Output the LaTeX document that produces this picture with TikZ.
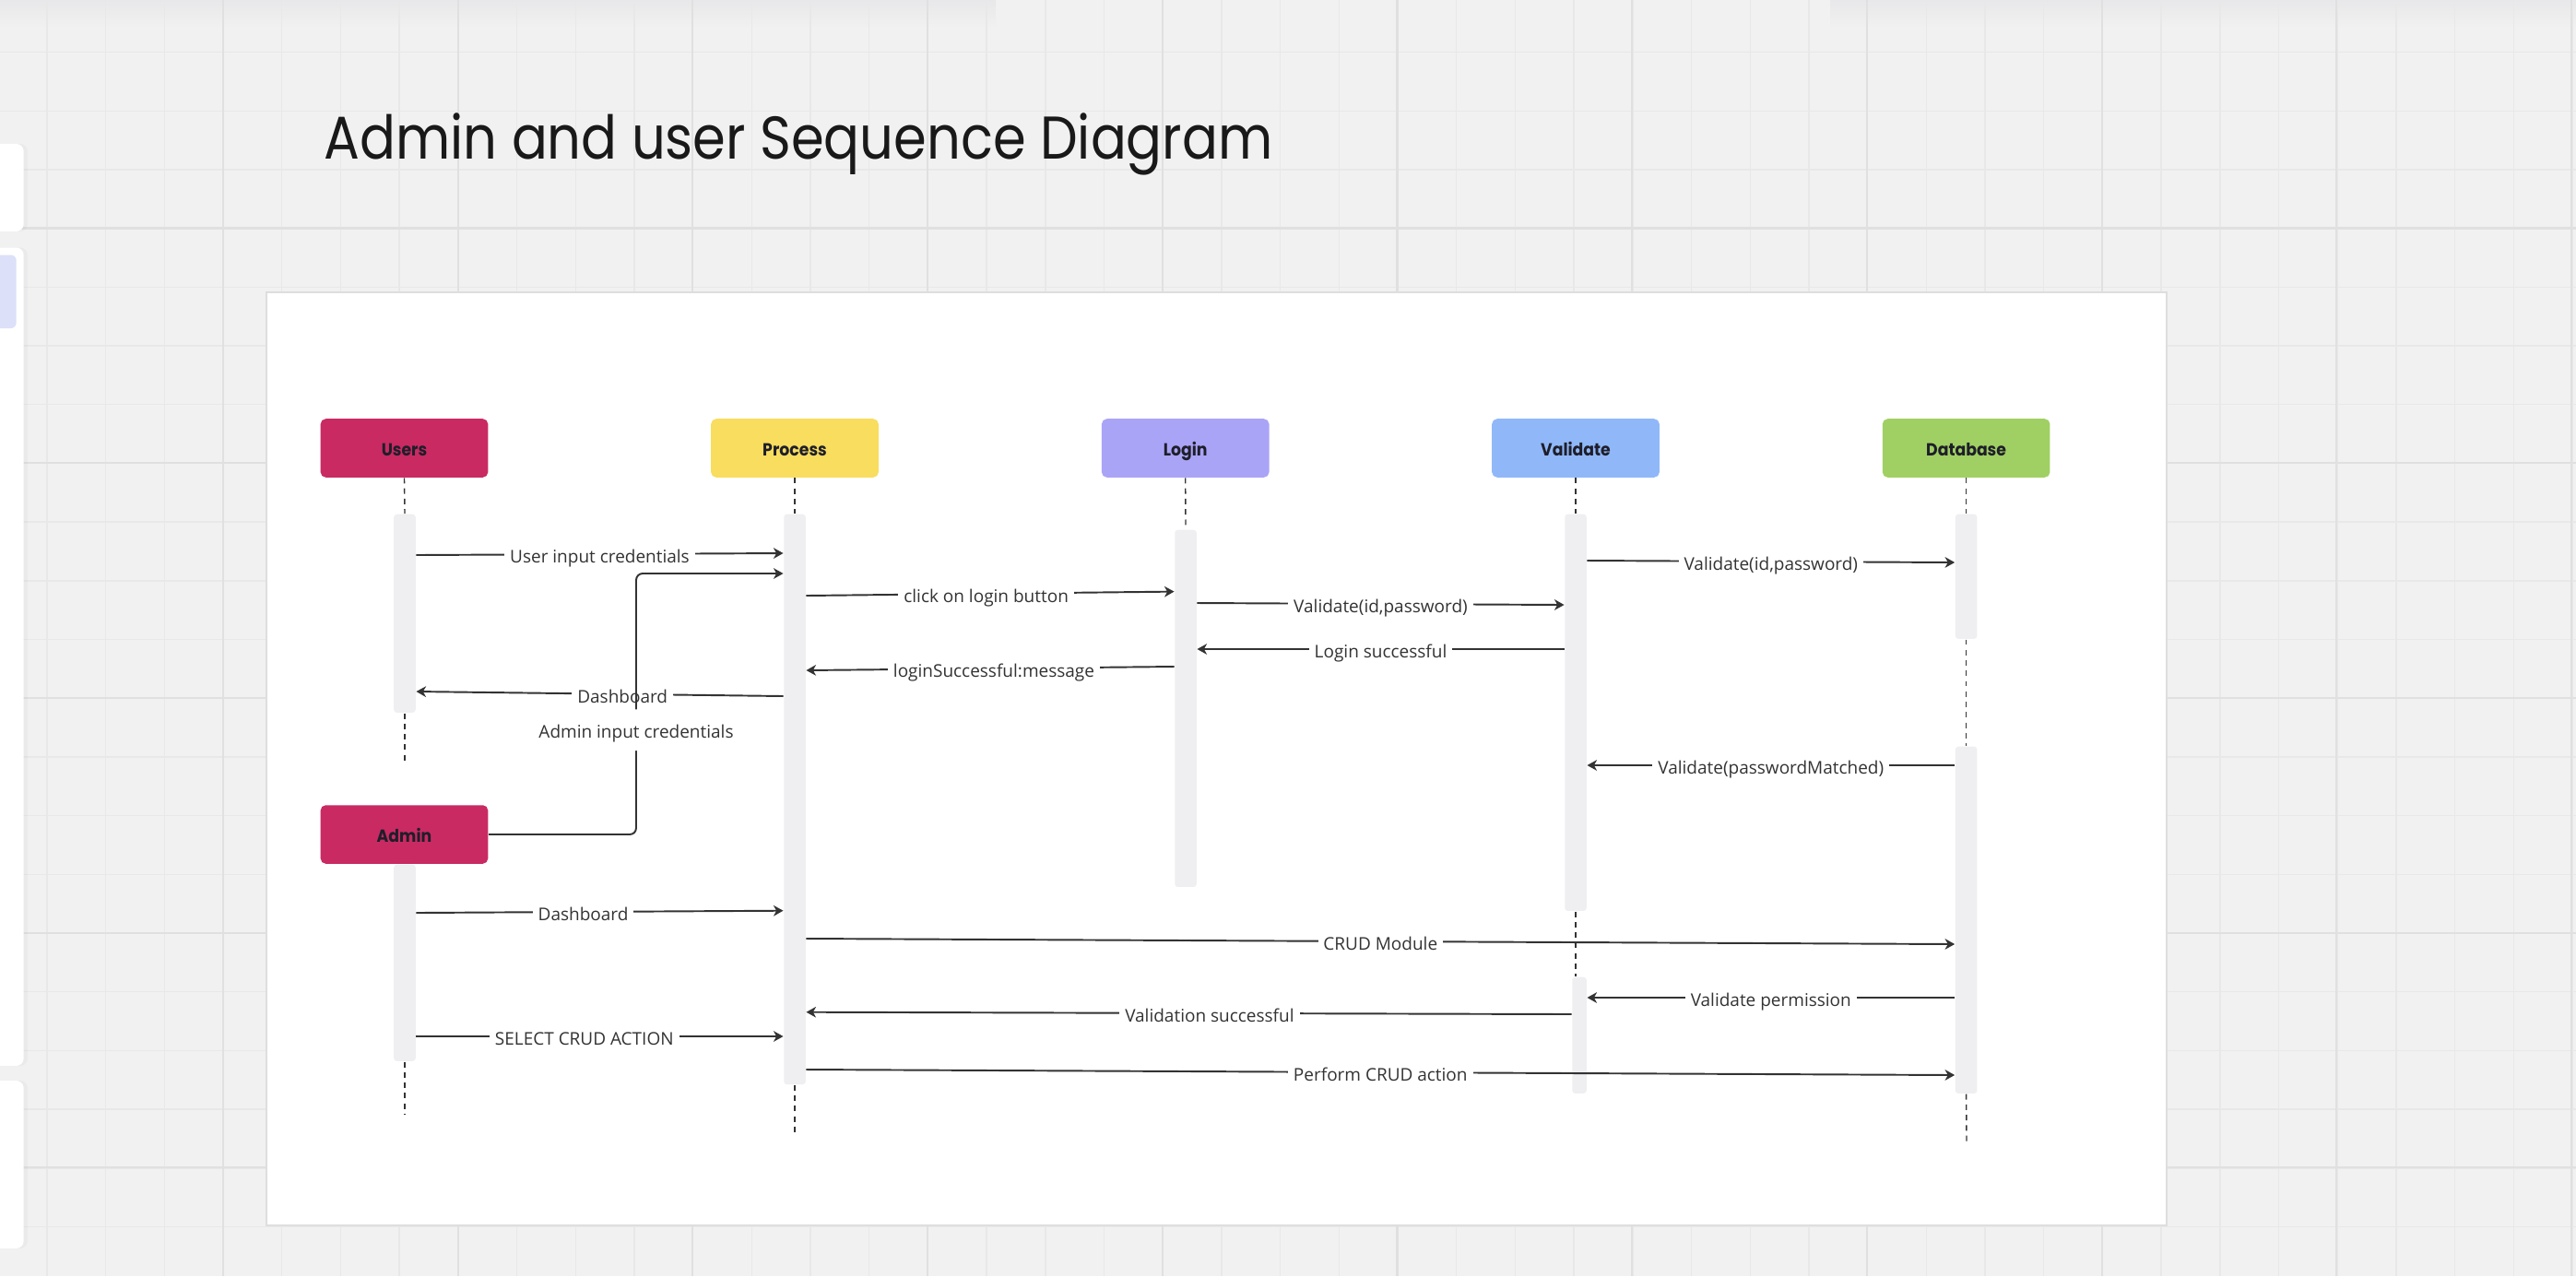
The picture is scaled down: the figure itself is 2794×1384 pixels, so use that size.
\documentclass[tikz,border=0pt]{standalone}
\usepackage{fontspec}
\setmainfont{Open Sans}
\newfontfamily\headfont{Poppins}[FakeStretch=0.91]
\newfontfamily\titlefont{Poppins}[FakeStretch=0.88]
\usetikzlibrary{arrows.meta,shadows}

\definecolor{canvas}{HTML}{F1F1F1}
\definecolor{gridminor}{HTML}{E8E8E8}
\definecolor{gridmajor}{HTML}{E0E0E0}
\definecolor{ink}{HTML}{333333}
\definecolor{barfill}{HTML}{EFEFF1}
\definecolor{usercol}{HTML}{C92A62}
\definecolor{proccol}{HTML}{F8DD5E}
\definecolor{logincol}{HTML}{AAA4F7}
\definecolor{validcol}{HTML}{90B8F9}
\definecolor{dbcol}{HTML}{A0D063}
\definecolor{headink}{HTML}{1E1E2A}
\definecolor{panelline}{HTML}{DEDEDE}
\definecolor{lavender}{HTML}{DCE0F9}
\definecolor{topshade}{HTML}{E8E8EA}

\begin{document}
\begin{tikzpicture}[x=0.01cm,y=-0.01cm,
  actor/.style={rounded corners=1.6pt, minimum width=1.815cm, minimum height=0.635cm,
    inner sep=0pt, font=\headfont\bfseries\fontsize{5.4}{6}\selectfont, text=headink,
    text height=0.7em, text depth=2pt},
  actbar/.style={fill=barfill, rounded corners=0.9pt, inner sep=0pt,
    minimum width=0.235cm, anchor=north},
  life/.style={draw=ink, line width=0.4pt, dash pattern=on 1.7pt off 1.5pt},
  msg/.style={draw=ink, line width=0.55pt, -{Stealth[length=3pt,width=3.3pt,inset=0.9pt]}},
  lbl/.style={fill=white, inner xsep=1.7pt, inner ysep=0pt, text=ink,
    font=\fontsize{5.4}{6}\selectfont, text height=0.72em, text depth=1.6pt},
  sidepanel/.style={fill=white, rounded corners=2.3pt,
    drop shadow={opacity=0.06, shadow xshift=1.2pt, shadow yshift=0pt}}
]
\useasboundingbox (0,0) rectangle (2794,1384);

% canvas and grid
\fill[canvas] (0,0) rectangle (2794,1384);
\shade[top color=topshade, bottom color=canvas] (0,0) rectangle (1080,30);
\shade[top color=topshade, bottom color=canvas] (1985,0) rectangle (2794,30);
\foreach \k in {0,...,43}
  \draw[gridminor, line width=0.4pt] ({50.9+63.7*\k},0) -- ++(0,1384);
\foreach \k in {1,...,21}
  \draw[gridminor, line width=0.4pt] (0,{-7.2+63.7*\k}) -- ++(2794,0);
\foreach \k in {0,...,10}
  \draw[gridmajor, line width=0.6pt] ({242+254.7*\k},0) -- ++(0,1384);
\foreach \k in {1,...,5}
  \draw[gridmajor, line width=0.6pt] (0,{-7.2+254.7*\k}) -- ++(2794,0);

% side toolbar
\fill[sidepanel] (-20,156) rectangle (25.7,251);
\fill[sidepanel] (-20,268.5) rectangle (25.7,1156);
\fill[sidepanel] (-20,1172) rectangle (25.7,1354);
\fill[lavender, rounded corners=1.7pt] (-20,276.5) rectangle (17.7,356);

% title
\node[anchor=base west, inner sep=0pt, font=\titlefont\fontsize{18.6}{22}\selectfont,
  text=black!90] (title) at (351,172) {Admin and user Sequence Diagram};

% frame
\filldraw[fill=white, draw=panelline, line width=0.5pt] (289,317) rectangle (2350,1329);

% activation bars
\node[actbar, minimum height=2.15cm] (ub) at (439,557) {};
\node[actbar, minimum height=6.18cm] (pb) at (862,557) {};
\node[actbar, minimum height=3.87cm] (lb) at (1286,574) {};
\node[actbar, minimum height=4.30cm] (vb1) at (1709,557) {};
\node[actbar, minimum height=1.26cm, minimum width=0.155cm] (vb2) at (1713,1059) {};
\node[actbar, minimum height=1.35cm] (db1) at (2132.6,557) {};
\node[actbar, minimum height=3.76cm] (db2) at (2132.6,809) {};
\node[actbar, minimum height=2.13cm] (ab) at (439,937) {};

% participants
\node[actor, fill=usercol] (users) at (438.5,486) {Users};
\node[actor, fill=proccol] (process) at (862,486) {Process};
\node[actor, fill=logincol] (login) at (1285.7,486) {Login};
\node[actor, fill=validcol] (validate) at (1709,486) {Validate};
\node[actor, fill=dbcol] (database) at (2132.6,486) {Database};
\node[actor, fill=usercol] (admin) at (438.5,905) {Admin};

% lifelines
\coordinate (ulend) at (439,829);
\coordinate (plend) at (862,1233);
\coordinate (dlend) at (2133,1240);
\coordinate (alend) at (439,1208);
\draw[life] (users.south) -- (ub.north);
\draw[life] (ub.south) -- (ulend);
\draw[life] (process.south) -- (pb.north);
\draw[life] (pb.south) -- (plend);
\draw[life] (login.south) -- (lb.north);
\draw[life] (validate.south) -- (vb1.north);
\draw[life] (vb1.south) -- (vb1.south |- vb2.north);
\draw[life] (database.south) -- (db1.north);
\draw[life] (db1.south) -- (db2.north);
\draw[life] (db2.south) -- (dlend);
\draw[life] (ab.south) -- (alend);

% messages
\draw[msg] (ub.east |- 0,602) -- node[lbl]{User input credentials} (pb.west |- 0,600);
\draw[msg] (pb.west |- 0,755) -- node[lbl, pos=0.438]{Dashboard} (ub.east |- 0,750);
\coordinate (abend) at (690,622);
\draw[msg, rounded corners=2pt] (admin.east) -| node[lbl, pos=0.70, text depth=0.25em, inner ysep=1.5pt]{Admin input credentials} (abend) -- (pb.west |- abend);
\draw[msg] (pb.east |- 0,646) -- node[lbl, pos=0.489]{click on login button} (lb.west |- 0,641.6);
\draw[msg] (lb.east |- 0,654) -- node[lbl]{Validate(id,password)} (vb1.west |- 0,656);
\draw[msg] (vb1.west |- 0,704) -- node[lbl]{Login successful} (lb.east |- 0,704);
\draw[msg] (lb.west |- 0,723) -- node[lbl, pos=0.49]{loginSuccessful:message} (pb.east |- 0,727);
\draw[msg] (vb1.east |- 0,608) -- node[lbl]{Validate(id,password)} (db1.west |- 0,610);
\draw[msg] (db2.west |- 0,830) -- node[lbl]{Validate(passwordMatched)} (vb1.east |- 0,830);
\draw[msg] (ab.east |- 0,990) -- node[lbl, pos=0.455]{Dashboard} (pb.west |- 0,987.7);
\draw[msg] (pb.east |- 0,1018) -- node[lbl]{CRUD Module} (db2.west |- 0,1024);
\draw[msg] (db2.west |- 0,1082) -- node[lbl]{Validate permission} (vb2.east |- 0,1082);
\draw[msg] (vb2.west |- 0,1100) -- node[lbl, pos=0.473]{Validation successful} (pb.east |- 0,1097.7);
\draw[msg] (ab.east |- 0,1124) -- node[lbl, pos=0.458]{SELECT CRUD ACTION} (pb.west |- 0,1124);
\draw[msg] (pb.east |- 0,1160) -- node[lbl]{Perform CRUD action} (db2.west |- 0,1166);
\end{tikzpicture}
\end{document}
